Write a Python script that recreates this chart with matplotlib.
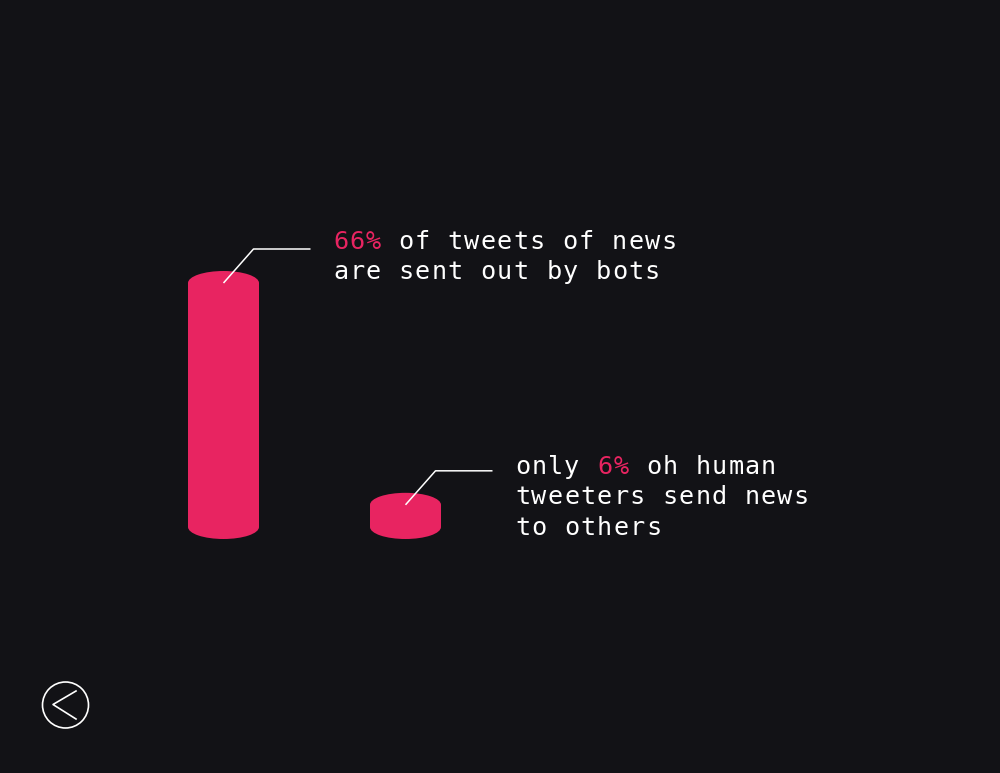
import numpy as np
import matplotlib
matplotlib.use("Agg")
import matplotlib.pyplot as plt
from matplotlib.patches import Ellipse, Rectangle

# data
groups = ["bots", "humans"]
shares = [66, 6]
notes = [
    [[("66%", True), (" of tweets of news", False)],
     [("are sent out by bots", False)]],
    [[("only ", False), ("6%", True), (" oh human", False)],
     [("tweeters send news", False)],
     [("to others", False)]],
]

BG = "#121216"
PINK = "#E82461"
W, H = 1000, 773

fig = plt.figure(figsize=(W / 100, H / 100), dpi=100, facecolor=BG)
ax = fig.add_axes([0, 0, 1, 1])
ax.set_facecolor(BG)
ax.axis("off")

# scale: category step 182 px, 3.697 px per percent, baseline at y=527 px
xstep, ystep = 182.0, 244.0 / 66
x0, y0 = 223.5, 527.0
ax.set_xlim(-x0 / xstep, (W - x0) / xstep)
ax.set_ylim((y0 - H) / ystep, y0 / ystep)

bw = 71 / xstep
eh = 24 / ystep
for i, v in enumerate(shares):
    ax.add_patch(Ellipse((i, 0), bw, eh, color=PINK, lw=0))
    ax.add_patch(Rectangle((i - bw / 2, 0), bw, v, color=PINK, lw=0))
    ax.add_patch(Ellipse((i, v), bw, eh, color=PINK, lw=0))
    # leader line
    lx = [i, i + 30 / xstep, i + 87 / xstep]
    ly = [v, v + 34 / ystep, v + 34 / ystep]
    ax.plot(lx, ly, color="white", lw=1.1, solid_capstyle="butt")


def draw_text(x_px, y_px, lines, size=18.2, step=16.4, lead=30.4):
    for k, segs in enumerate(lines):
        cx = x_px
        for s, hi in segs:
            for ch in s:
                if ch != " ":
                    fig.text(cx / W, 1 - (y_px + k * lead) / H, ch,
                             family="DejaVu Sans Mono", fontsize=size,
                             color=PINK if hi else "white",
                             ha="left", va="center")
                cx += step


# text blocks anchored near the leader line ends
for i, v in enumerate(shares):
    tx = x0 + i * xstep + 109.5
    ty = y0 - v * ystep - 41 + (3 if i else 0)
    draw_text(tx, ty, notes[i])

# back button
fig.add_artist(Ellipse((65.5 / W, 1 - 705 / H), 46 / W, 46 / H,
                       transform=fig.transFigure,
                       fill=False, ec="white", lw=1.2))
fig.add_artist(plt.Line2D([76 / W, 53 / W, 76 / W],
                          [1 - 691 / H, 1 - 704.5 / H, 1 - 719 / H],
                          transform=fig.transFigure, color="white", lw=1.2))

fig.savefig("out.png", dpi=100, facecolor=BG)
